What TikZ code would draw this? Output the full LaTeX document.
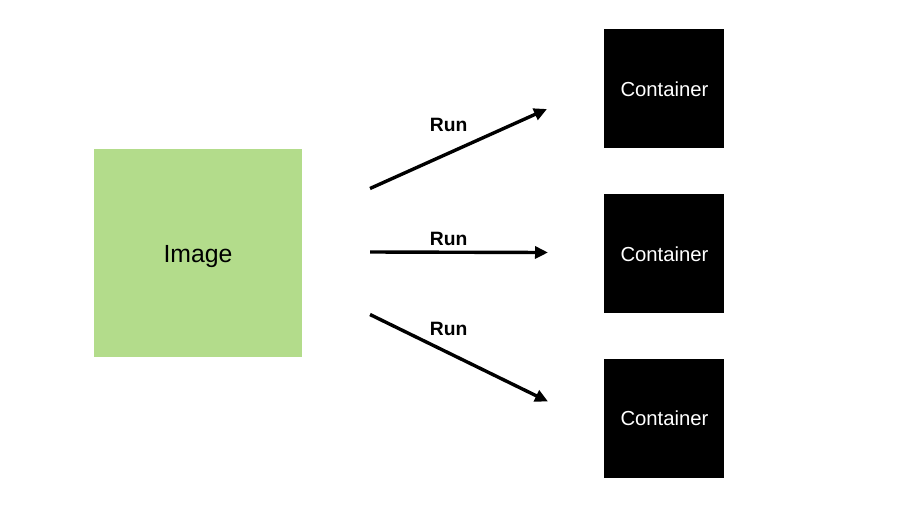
\documentclass[tikz,border=0pt]{standalone}
\usepackage{fontspec}
\setmainfont{Liberation Sans}
\usetikzlibrary{arrows.meta}
\begin{document}
\begin{tikzpicture}[x=1pt,y=-1pt,
  imgbox/.style={fill={rgb,255:red,179;green,220;blue,139}, draw=none, minimum width=208pt, minimum height=208pt, inner sep=0pt},
  contbox/.style={fill=black, draw=none, minimum width=120pt, minimum height=119pt, inner sep=0pt},
  runarrow/.style={line width=3.4pt, -{Triangle[length=13pt,width=12pt]}},
  runlabel/.style={font=\bfseries\fontsize{19.3}{21}\selectfont, anchor=base, inner sep=0pt},
  conttext/.style={anchor=base, inner sep=0pt, text=white, font=\fontsize{20.3}{22}\selectfont}
]
\useasboundingbox (0,0) rectangle (917,509);
\node[imgbox] (img) at (198,253) {};
\node[anchor=base, inner sep=0pt, font=\fontsize{24.8}{26}\selectfont] (imgtxt) at (198,262.3) {Image};

\node[contbox] (c1) at (664,88.5) {};
\node[contbox] (c2) at (664,253.5) {};
\node[contbox] (c3) at (664,418) {};
\node[conttext] (t1) at (664.5,96.3) {Container};
\node[conttext] (t2) at (664.5,261.3) {Container};
\node[conttext] (t3) at (664.5,425.8) {Container};

\coordinate (s1) at (370,188.5);
\coordinate (e1) at (547,109);
\coordinate (s2) at (370,252);
\coordinate (e2) at (548,252.5);
\coordinate (s3) at (370,314.5);
\coordinate (e3) at (548,401.5);
\draw[runarrow] (s1) -- (e1);
\draw[runarrow] (s2) -- (e2);
\draw[runarrow] (s3) -- (e3);

\node[runlabel] (r1) at (448.7,131) {Run};
\node[runlabel] (r2) at (448.7,245) {Run};
\node[runlabel] (r3) at (448.7,335.7) {Run};
\end{tikzpicture}
\end{document}
